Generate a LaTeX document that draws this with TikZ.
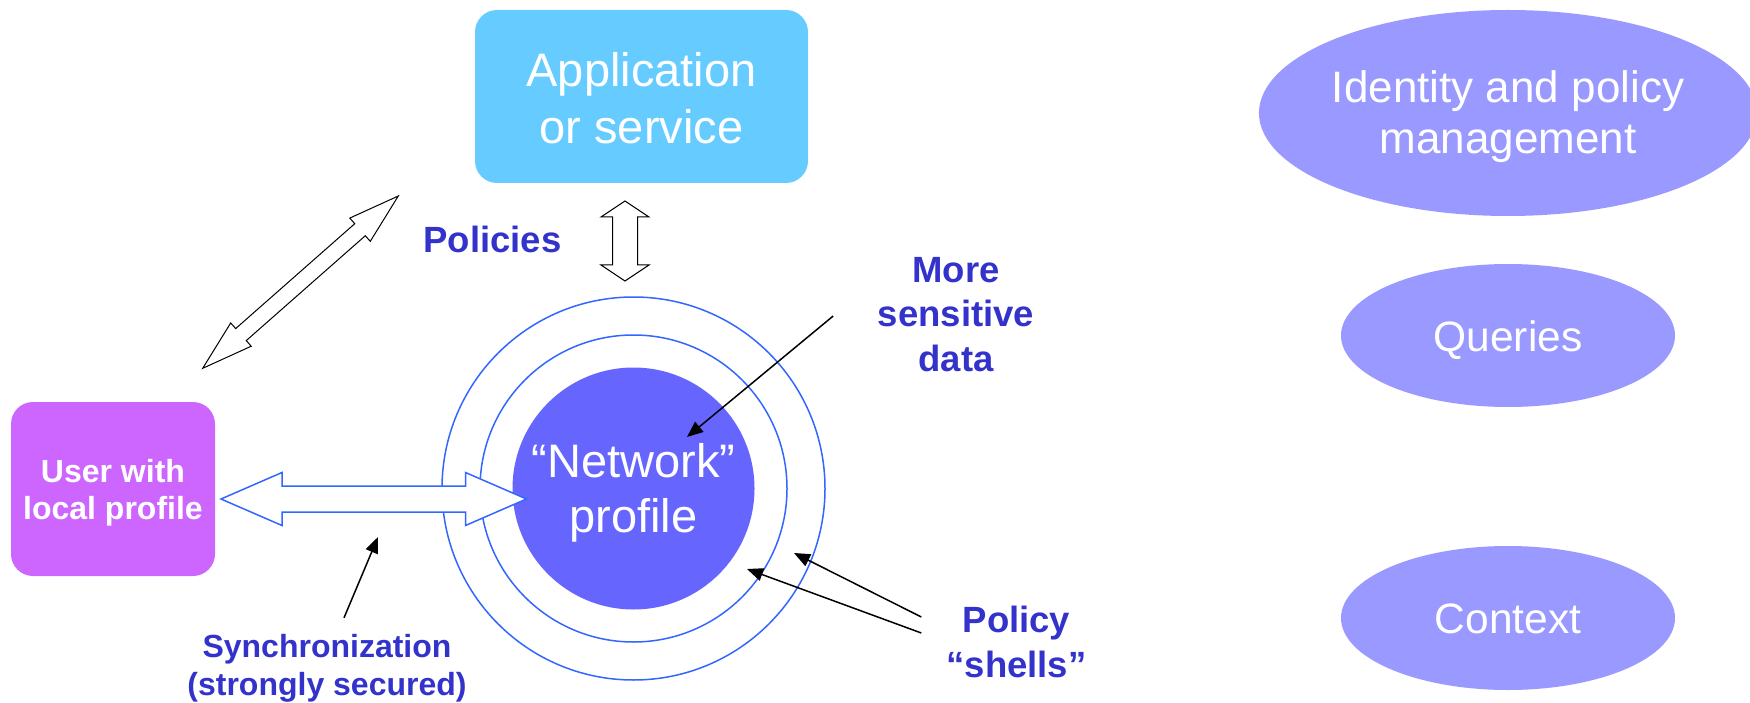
\documentclass[tikz,border=0pt]{standalone}
\usepackage{fontspec}
\setmainfont{Liberation Sans}
\usetikzlibrary{calc,arrows.meta,shapes.geometric}
\definecolor{appblue}{HTML}{66CCFF}
\definecolor{userpink}{HTML}{CC66FF}
\definecolor{coreblue}{HTML}{6666FF}
\definecolor{ovalblue}{HTML}{9999FF}
\definecolor{labelblue}{HTML}{3333CC}
\definecolor{shellblue}{HTML}{3366FF}
% block arrow, head on both ends: [style]{from}{to}{head length}{head half width}{shaft half width}
\newcommand{\dblblock}[6][]{%
  \coordinate (#2-h) at ($(#2)!#4!(#3)$);
  \coordinate (#3-h) at ($(#3)!#4!(#2)$);
  \draw[#1] (#2) -- ($(#2-h)!#5!90:(#3)$) -- ($(#2-h)!#6!90:(#3)$)
    -- ($(#3-h)!#6!90:(#3)$) -- ($(#3-h)!#5!90:(#3)$) -- (#3)
    -- ($(#3-h)!#5!-90:(#3)$) -- ($(#3-h)!#6!-90:(#3)$)
    -- ($(#2-h)!#6!-90:(#3)$) -- ($(#2-h)!#5!-90:(#3)$) -- cycle;}
\begin{document}
\begin{tikzpicture}[x=1pt,y=-1pt,
  box node/.style={rectangle,rounded corners=22pt,inner sep=0pt,text=white,align=center,text depth=0pt},
  oval node/.style={ellipse,fill=ovalblue,inner sep=0pt,text=white,align=center,text depth=0pt},
  shell/.style={circle,draw=shellblue,line width=1.5pt,inner sep=0pt},
  label node/.style={text=labelblue,font=\fontsize{36.5}{44.5}\selectfont\bfseries,align=center,inner sep=0pt},
  pointer/.style={-{Triangle[length=16pt,width=13pt]},line width=1.5pt},
  hollow/.style={draw=black,fill=white,line width=1pt}]
\useasboundingbox (0,0) rectangle (1750,703);
% profile and its shells
\node[shell,minimum size=383pt] (outer) at (633.5,488.5) {};
\node[shell,minimum size=307pt] (middle) at (633.5,488.5) {};
\node[circle,fill=coreblue,minimum size=242pt,inner sep=0pt,text=white,align=center,text height=87pt,text depth=0pt,font=\fontsize{47}{55}\selectfont] (core) at (633.5,488.5) {“Network”\\profile};
% boxes
\node[box node,fill=appblue,minimum width=333pt,minimum height=173pt,text height=95pt,font=\fontsize{47}{57}\selectfont] (app) at (641.5,96.5) {Application\\or service};
\node[box node,fill=userpink,minimum width=204pt,minimum height=174pt,text height=60pt,font=\fontsize{32}{37}\selectfont\bfseries] (user) at (113,489) {User with\\local profile};
% right column
\node[oval node,minimum width=478pt,minimum height=206pt,text height=82pt,font=\fontsize{44}{51}\selectfont] (idm) at (1508,113) {Identity and policy\\management};
\node[oval node,minimum width=334pt,minimum height=143pt,text height=32pt,font=\fontsize{42.5}{51}\selectfont] (queries) at (1508,335.5) {Queries};
\node[oval node,minimum width=334pt,minimum height=144pt,text height=30pt,font=\fontsize{42.5}{51}\selectfont] (context) at (1508,618) {Context};
% labels
\node[label node] (policies) at (492.5,239.5) {Policies};
\node[label node] (sensitive) at (956,314.4) {More\\sensitive\\data};
\node[label node] (shells) at (1016.5,642) {Policy\\“shells”};
\node[label node,font=\fontsize{32}{38}\selectfont\bfseries] (sync) at (327,668) {Synchronization\\(strongly secured)};
% block arrows
\coordinate (diagA) at (202.7,368.3);
\coordinate (diagB) at (398.3,196);
\dblblock[hollow]{diagA}{diagB}{51pt}{15.5pt}{8pt}
\coordinate (polA) at (625,201);
\coordinate (polB) at (625,281);
\dblblock[hollow]{polA}{polB}{16pt}{24pt}{12.5pt}
\coordinate (syncA) at (221,499);
\coordinate (syncB) at (526.5,499);
\dblblock[hollow,draw=shellblue,line width=1.5pt]{syncA}{syncB}{61pt}{26.5pt}{13pt}
% pointers
\coordinate (sensTip) at (687,437);
\coordinate (shellTipA) at (794,553);
\coordinate (shellTipB) at (747,569);
\coordinate (syncTip) at (378,537);
\draw[pointer] ([xshift=-44.5pt,yshift=-1.6pt]sensitive.west) -- (sensTip);
\draw[pointer] ([xshift=-25pt,yshift=25pt]shells.west) -- (shellTipA);
\draw[pointer] ([xshift=-25pt,yshift=9pt]shells.west) -- (shellTipB);
\draw[pointer] ([xshift=17pt,yshift=16pt]sync.north) -- (syncTip);
\end{tikzpicture}
\end{document}
